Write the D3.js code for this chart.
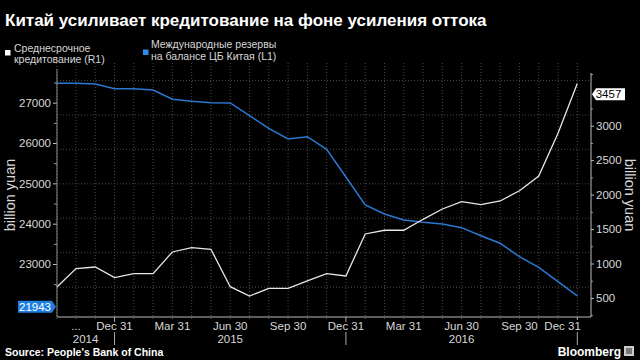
<!DOCTYPE html>
<html><head><meta charset="utf-8">
<script src="https://cdn.jsdelivr.net/npm/d3@7"></script>
<style>
html,body{margin:0;padding:0;background:#000;}
svg{display:block;font-family:"Liberation Sans",Arial,sans-serif;}
</style></head>
<body><svg id="c" width="640" height="360"></svg>
<script>
const months = ["2014-09","2014-10","2014-11","2014-12","2015-01","2015-02","2015-03","2015-04","2015-05","2015-06","2015-07","2015-08","2015-09","2015-10","2015-11","2015-12","2016-01","2016-02","2016-03","2016-04","2016-05","2016-06","2016-07","2016-08","2016-09","2016-10","2016-11","2016-12"];
const reserves = [27213,27213,27196,27079,27079,27047,26817,26767,26732,26725,26410,26097,25832,25889,25577,24890,24196,23972,23824,23767,23724,23633,23434,23246,22914,22651,22294,21943];
const mlf = [500,770,793,638,696,696,1011,1073,1050,507,372,484,484,590,696,663,1272,1326,1326,1485,1635,1741,1697,1751,1900,2113,2733,3457];
const xTickMonths = ["2014-10","2014-12","2015-03","2015-06","2015-09","2015-12","2016-03","2016-06","2016-09","2016-12"];
const xTickLabels = ["...","Dec 31","Mar 31","Jun 30","Sep 30","Dec 31","Mar 31","Jun 30","Sep 30","Dec 31"];
const yearLabels = ["2014","2015","2016"];
const yearStarts = ["2014-09","2014-12","2015-12"];
const yearEnds = ["2014-12","2015-12","2016-12"];
const leftTicks = [23000,24000,25000,26000,27000];
const leftMinor = [22500,23500,24500,25500,26500,27500];
const rightTicks = [500,1000,1500,2000,2500,3000];
const rightMinor = [250,750,1250,1750,2250,2750,3250,3750];
const gridValues = [500,1000,1500,2000,2500,3000,3500];
const title = "Китай усиливает кредитование на фоне усиления оттока";
const legendNames = [["Среднесрочное","кредитование (R1)"],["Международные резервы","на балансе ЦБ Китая (L1)"]];
const source = "Source:  People's Bank of China";

const svg = d3.select("#c");
const L = 57, R = 591, T = 73, B = 317, gridTop = 63, shift = 10.8;
const x = d3.scalePoint().domain(months).range([56.7, 577.3]);
const yL = d3.scaleLinear().domain([21686, 27736]).range([B, T]);
const yR = d3.scaleLinear().domain([224, 3765]).range([B, T]);
const WHITE = "#e8e8e8", BLUE = "#2a78d2", TXT = "#d8d8d8", GRID = "#4a4a4a";

svg.append("rect").attr("width",640).attr("height",360).attr("fill","#000");

// title
svg.append("text").attr("x",5).attr("y",26).attr("fill","#fff").attr("font-size",17).attr("font-weight","bold").text(title);

// legend
const lg = [{c:"#ffffff",x:5,y:50,tx:14,ty:[51.5,63]},{c:"#2d8cf0",x:143,y:49.5,tx:151,ty:[48,59.5]}];
lg.forEach((o,i)=>{
  svg.append("rect").attr("x",o.x).attr("y",o.y).attr("width",5.5).attr("height",5.5).attr("fill",o.c);
  legendNames[i].forEach((t,j)=>svg.append("text").attr("x",o.tx).attr("y",o.ty[j]).attr("fill",TXT).attr("font-size",10.5).text(t));
});

// vertical grid
svg.append("g").selectAll("line").data(months).join("line")
  .attr("x1",d=>x(d)).attr("x2",d=>x(d)).attr("y1",gridTop).attr("y2",B+3)
  .attr("stroke",GRID).attr("stroke-width",1).attr("stroke-dasharray","1,2");

// shifted plot body
const body = svg.append("g").attr("transform",`translate(0,${-shift})`);
body.append("g").selectAll("line").data(gridValues).join("line")
  .attr("x1",L).attr("x2",R).attr("y1",d=>yR(d)).attr("y2",d=>yR(d))
  .attr("stroke",GRID).attr("stroke-width",1).attr("stroke-dasharray","1,2");
body.append("path").datum(reserves).attr("fill","none").attr("stroke",BLUE).attr("stroke-width",1.5)
  .attr("d",d3.line().x((d,i)=>x(months[i])).y(d=>yL(d)));
body.append("path").datum(mlf).attr("fill","none").attr("stroke",WHITE).attr("stroke-width",1.3)
  .attr("d",d3.line().x((d,i)=>x(months[i])).y(d=>yR(d)));

// axes
function styleAxis(g){
  g.select(".domain").remove();
  g.selectAll("line").attr("stroke","#bbb");
  g.selectAll("text").attr("fill",TXT).attr("font-size",11.5).attr("font-family","Liberation Sans, Arial, sans-serif");
}
const gl = svg.append("g").attr("transform",`translate(${L},0)`)
  .call(d3.axisLeft(yL).tickValues(leftTicks).tickSize(4).tickPadding(2).tickFormat(d3.format("d")));
styleAxis(gl);
svg.append("g").attr("transform",`translate(${L},0)`)
  .call(d3.axisLeft(yL).tickValues(leftMinor).tickSize(3).tickFormat(""))
  .call(g=>{g.select(".domain").remove();g.selectAll("line").attr("stroke","#999");});
svg.append("line").attr("x1",L).attr("x2",L).attr("y1",T-4).attr("y2",B).attr("stroke","#888");

const gr = svg.append("g").attr("transform",`translate(${R},0)`)
  .call(d3.axisRight(yR).tickValues(rightTicks).tickSize(3).tickPadding(2).tickFormat(d3.format("d")));
styleAxis(gr);
svg.append("g").attr("transform",`translate(${R},0)`)
  .call(d3.axisRight(yR).tickValues(rightMinor).tickSize(2).tickFormat(""))
  .call(g=>{g.select(".domain").remove();g.selectAll("line").attr("stroke","#999");});
svg.append("line").attr("x1",R).attr("x2",R).attr("y1",T).attr("y2",B).attr("stroke","#bbb");

// bottom axis
svg.append("line").attr("x1",L).attr("x2",R).attr("y1",B).attr("y2",B).attr("stroke","#bbb");
svg.append("g").selectAll("line").data(yearEnds).join("line")
  .attr("x1",d=>x(d)).attr("x2",d=>x(d)).attr("y1",B).attr("y2",345).attr("stroke","#aaa");
const last = xTickMonths.length-1;
svg.append("g").selectAll("text").data(xTickMonths).join("text")
  .attr("x",(d,i)=> i===last ? x(d)+3.5 : x(d))
  .attr("y",330).attr("text-anchor",(d,i)=> i===last ? "end" : "middle")
  .attr("fill",TXT).attr("font-size",11.5)
  .attr("stroke","#000").attr("stroke-width",4).attr("paint-order","stroke")
  .text((d,i)=>xTickLabels[i]);
svg.append("g").selectAll("text").data(yearLabels).join("text")
  .attr("x",(d,i)=>(x(yearStarts[i])+x(yearEnds[i]))/2).attr("y",343)
  .attr("text-anchor","middle").attr("fill",TXT).attr("font-size",11.5).text(d=>d);

// axis titles
svg.append("text").attr("transform",`translate(15,195) rotate(-90)`).attr("text-anchor","middle")
  .attr("fill",TXT).attr("font-size",14.5).text("billion yuan");
svg.append("text").attr("transform",`translate(625,195) rotate(90)`).attr("text-anchor","middle")
  .attr("fill",TXT).attr("font-size",14.5).text("billion yuan");

// value labels
const lastRes = reserves[reserves.length-1], lastMlf = mlf[mlf.length-1];
const yl = yL(lastRes);
svg.append("path").attr("d",`M18,${yl-6}H52L56,${yl}L52,${yl+6}H18Z`).attr("fill","#1f7fe0");
svg.append("text").attr("x",35).attr("y",yl+4.2).attr("text-anchor","middle").attr("fill","#fff").attr("font-size",11.5).text(lastRes);
const yr = yR(lastMlf);
svg.append("path").attr("d",`M${R+1},${yr}L${R+5},${yr-6}H625V${yr+6}H${R+5}Z`).attr("fill","#fff");
svg.append("text").attr("x",608.5).attr("y",yr+4.2).attr("text-anchor","middle").attr("fill","#000").attr("font-size",11.5).text(lastMlf);

// footer
svg.append("text").attr("x",5).attr("y",356).attr("fill","#fff").attr("font-size",10.5).attr("font-weight","bold").text(source);
svg.append("text").attr("x",621).attr("y",356).attr("text-anchor","end").attr("fill","#fff").attr("font-size",12).attr("font-weight","bold").text("Bloomberg");
svg.append("rect").attr("x",624).attr("y",346).attr("width",10).attr("height",10).attr("fill","#ccc");
svg.append("rect").attr("x",626).attr("y",348).attr("width",6).attr("height",6).attr("fill","#777");
</script></body></html>
